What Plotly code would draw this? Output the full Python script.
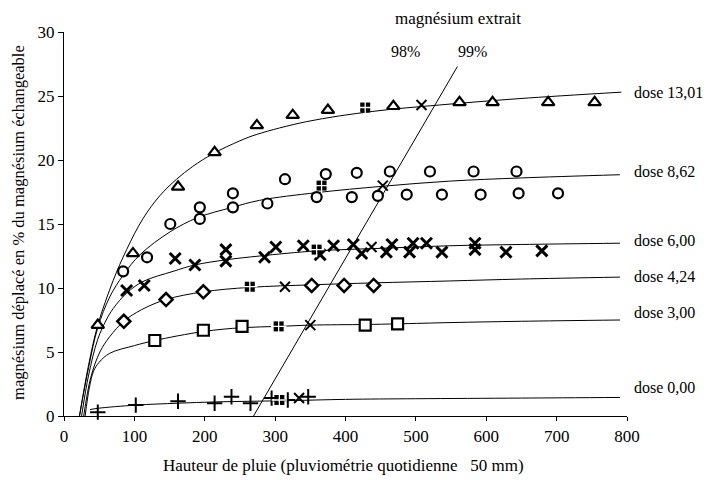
import plotly.graph_objects as go

# ---------------- data ----------------
# fitted curves
c1301_x = [22, 35, 48, 70, 89, 112, 136, 160, 183, 212, 250, 274, 345, 439, 534, 648, 792]
c1301_y = [0, 4.0, 7.1, 10.6, 13.0, 15.4, 17.2, 18.5, 19.5, 20.5, 21.5, 22.0, 23.0, 23.8, 24.3, 24.8, 25.3]
c862_x = [22, 35, 48, 65, 84, 108, 151, 190, 239, 278, 359, 453, 548, 650, 790]
c862_y = [0, 3.8, 6.9, 9.3, 11.0, 12.6, 14.4, 15.5, 16.3, 16.85, 17.45, 17.95, 18.35, 18.6, 18.85]
c600_x = [25, 35, 48, 60, 70, 89, 112, 155, 186, 230, 278, 359, 450, 548, 650, 790]
c600_y = [0, 3.2, 6.0, 7.5, 8.4, 9.6, 10.5, 11.3, 11.8, 12.2, 12.5, 12.9, 13.1, 13.3, 13.4, 13.5]
c424_x = [28, 38, 51, 65, 85, 110, 145, 198, 264, 352, 440, 548, 650, 790]
c424_y = [0, 3.0, 5.0, 6.2, 7.4, 8.3, 9.1, 9.7, 10.05, 10.25, 10.4, 10.55, 10.7, 10.85]
c300_x = [30, 36, 42, 50, 65, 100, 129, 198, 253, 305, 350, 428, 474, 550, 650, 790]
c300_y = [0, 2.2, 3.5, 4.2, 4.9, 5.5, 5.9, 6.6, 6.9, 7.0, 7.1, 7.15, 7.2, 7.3, 7.4, 7.5]
c000_x = [37, 48, 102, 162, 214, 265, 320, 400, 500, 650, 790]
c000_y = [0.5, 0.6, 0.85, 1.0, 1.1, 1.15, 1.2, 1.3, 1.35, 1.4, 1.45]

# measured points
tri_x = [48, 98, 162, 214, 274, 325, 375, 468, 562, 609, 688, 754]
tri_y = [7.1, 12.7, 17.9, 20.6, 22.7, 23.5, 23.9, 24.2, 24.5, 24.5, 24.5, 24.5]
circ_x = [84, 118, 151, 193, 193, 240, 240, 289, 314, 359, 372, 409, 416, 446, 463,
          487, 520, 537, 582, 592, 643, 646, 702]
circ_y = [11.3, 12.4, 15.0, 15.4, 16.3, 16.3, 17.4, 16.6, 18.5, 17.1, 18.9, 17.1, 19.0,
          17.2, 19.1, 17.3, 19.1, 17.3, 19.1, 17.3, 19.1, 17.4, 17.4]
x_x = [89, 114, 158, 186, 230, 230, 285, 301, 340, 364, 383, 411, 423, 458, 466,
       491, 496, 515, 537, 584, 584, 628, 679]
x_y = [9.8, 10.2, 12.3, 11.8, 13.0, 12.1, 12.4, 13.2, 13.3, 12.6, 13.3, 13.4, 12.7,
       12.8, 13.4, 12.8, 13.5, 13.5, 12.8, 13.5, 13.0, 12.8, 12.9]
dia_x = [85, 145, 198, 352, 398, 440]
dia_y = [7.4, 9.1, 9.7, 10.2, 10.2, 10.2]
sq_x = [129, 198, 253, 428, 474]
sq_y = [5.9, 6.7, 7.0, 7.1, 7.2]
plus_x = [48, 102, 162, 214, 238, 265, 295, 318, 347]
plus_y = [0.3, 0.85, 1.15, 1.0, 1.5, 1.0, 1.4, 1.25, 1.5]

# 98 % points (filled cluster) and 99 % points (crossed marker)
p98_x = [428, 366, 359, 264, 305, 306]
p98_y = [24.1, 18.0, 13.0, 10.1, 7.0, 1.25]
p99_x = [508, 453, 437, 314, 350, 334]
p99_y = [24.3, 18.0, 13.2, 10.1, 7.1, 1.4]

# 99 % extraction line
l99_x = [264, 559]
l99_y = [-0.5, 27.3]

dose_labels = ["dose 13,01", "dose 8,62", "dose 6,00", "dose 4,24", "dose 3,00", "dose 0,00"]
dose_label_y = [25.3, 19.1, 13.75, 10.9, 8.05, 2.2]

x_ticks = [0, 100, 200, 300, 400, 500, 600, 700, 800]
y_ticks = [0, 5, 10, 15, 20, 25, 30]

FONT = "Liberation Serif"
fig = go.Figure()

for cx, cy in [(c1301_x, c1301_y), (c862_x, c862_y), (c600_x, c600_y),
               (c424_x, c424_y), (c300_x, c300_y), (c000_x, c000_y)]:
    fig.add_trace(go.Scatter(x=cx, y=cy, mode="lines",
                             line=dict(color="black", width=1, shape="spline", smoothing=1.0),
                             hoverinfo="skip", showlegend=False))

fig.add_trace(go.Scatter(x=l99_x, y=l99_y, mode="lines", line=dict(color="black", width=1),
                         showlegend=False, hoverinfo="skip"))

def pts(x, y, symbol, size, lw, fill="white"):
    fig.add_trace(go.Scatter(x=x, y=y, mode="markers", cliponaxis=False, showlegend=False,
                             marker=dict(symbol=symbol, size=size, color=fill,
                                         line=dict(color="black", width=lw))))

pts(tri_x, tri_y, "triangle-up", 11, 2.2)
pts(circ_x, circ_y, "circle", 10, 2.2)
pts(x_x, x_y, "x-thin", 11, 3)
pts(dia_x, dia_y, "diamond", 10, 2.5)
pts(sq_x, sq_y, "square", 11, 2.2)
pts(plus_x, plus_y, "cross-thin", 11, 2)
# 98 % cluster: black square split by white cross
fig.add_trace(go.Scatter(x=p98_x, y=p98_y, mode="markers", cliponaxis=False, showlegend=False,
                         marker=dict(symbol="square", size=10, color="black", line=dict(width=0))))
fig.add_trace(go.Scatter(x=p98_x, y=p98_y, mode="markers", cliponaxis=False, showlegend=False,
                         marker=dict(symbol="cross-thin", size=11, line=dict(color="white", width=1.3))))
# 99 % crossed marker
fig.add_trace(go.Scatter(x=p99_x, y=p99_y, mode="markers", cliponaxis=False, showlegend=False,
                         marker=dict(symbol="x-thin", size=10, line=dict(color="black", width=2))))

ann = []
for t, yy in zip(dose_labels, dose_label_y):
    ann.append(dict(x=1.008, xref="paper", y=yy, yref="y", text=t, showarrow=False,
                    xanchor="left", yanchor="middle", font=dict(family=FONT, size=16, color="black")))
ann.append(dict(x=0.70, y=1.034, xref="paper", yref="paper", text="magnésium extrait", showarrow=False,
                xanchor="center", yanchor="middle", font=dict(family=FONT, size=17, color="black")))
ann.append(dict(x=0.606, y=0.948, xref="paper", yref="paper", text="98%", showarrow=False,
                xanchor="center", yanchor="middle", font=dict(family=FONT, size=16, color="black")))
ann.append(dict(x=0.726, y=0.948, xref="paper", yref="paper", text="99%", showarrow=False,
                xanchor="center", yanchor="middle", font=dict(family=FONT, size=16, color="black")))
ann.append(dict(x=0.496, y=-0.13, xref="paper", yref="paper",
                text="Hauteur de pluie (pluviométrie quotidienne   50 mm)", showarrow=False,
                xanchor="center", yanchor="middle", font=dict(family=FONT, size=17, color="black")))
ann.append(dict(x=-0.082, y=0.505, xref="paper", yref="paper", textangle=-90,
                text="magnésium déplacé en % du magnésium échangeable", showarrow=False,
                xanchor="center", yanchor="middle", font=dict(family=FONT, size=16.5, color="black")))

fig.update_layout(
    width=708, height=480,
    margin=dict(l=64, r=81, t=32, b=64),
    paper_bgcolor="white", plot_bgcolor="white",
    annotations=ann,
    xaxis=dict(range=[0, 800], tickvals=x_ticks, showgrid=False, zeroline=False,
               showline=True, linecolor="black", linewidth=1.2, ticks="outside", ticklen=4,
               tickcolor="black", tickfont=dict(family=FONT, size=17, color="black")),
    yaxis=dict(range=[0, 30], tickvals=y_ticks, showgrid=False, zeroline=False,
               showline=True, linecolor="black", linewidth=1.2, ticks="outside", ticklen=5,
               tickcolor="black", tickfont=dict(family=FONT, size=17, color="black")),
)

fig.write_html("out.html")
